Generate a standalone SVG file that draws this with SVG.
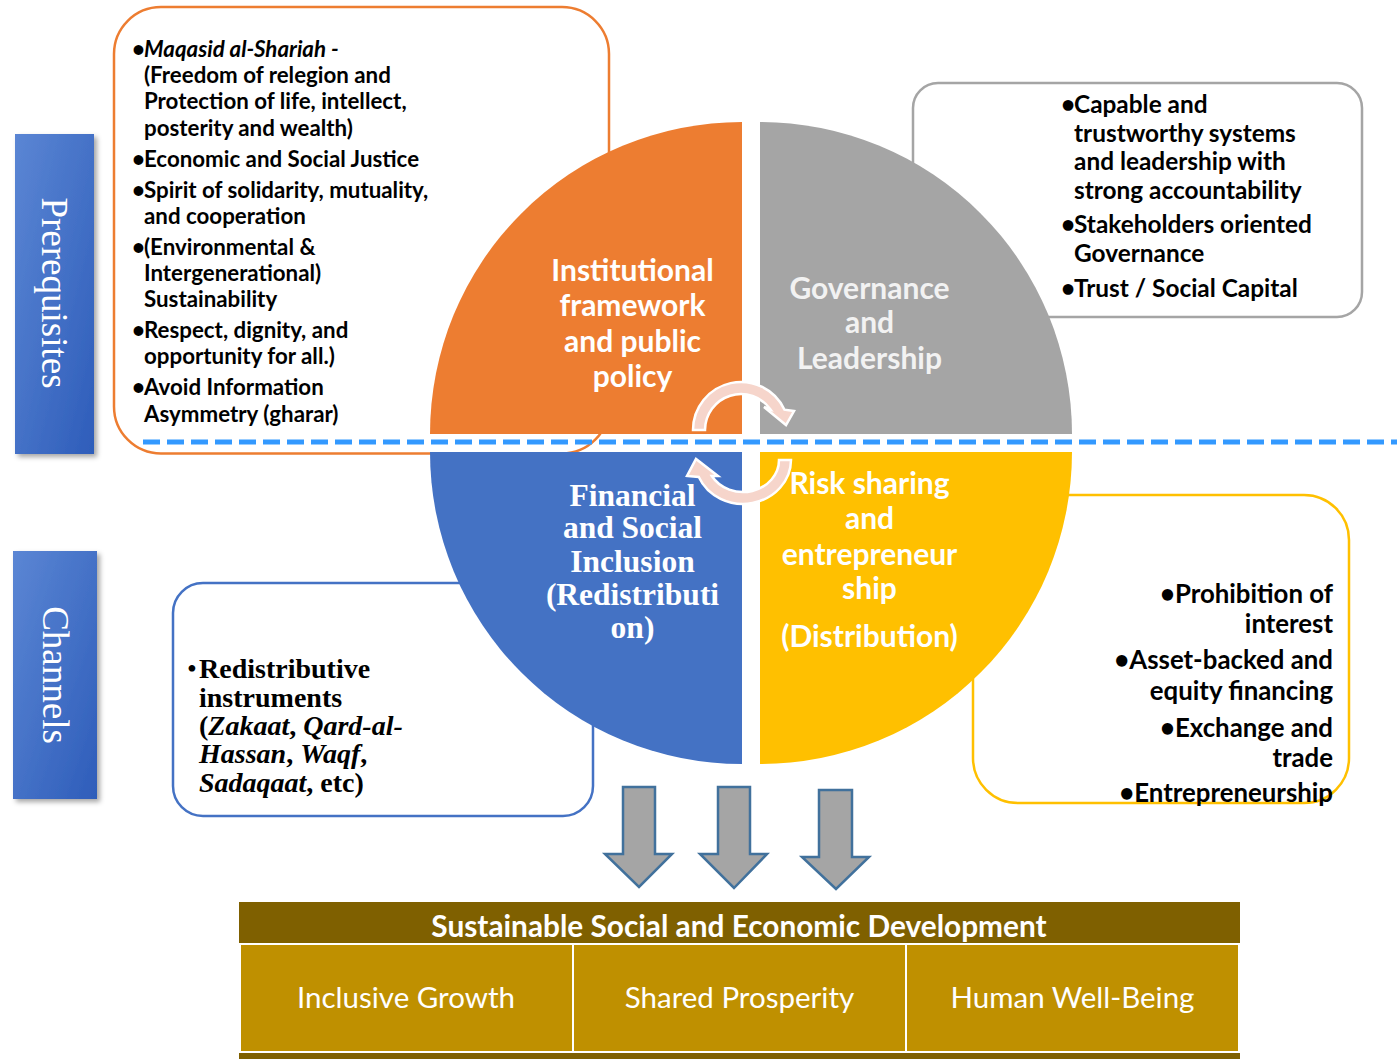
<svg xmlns="http://www.w3.org/2000/svg" width="1397" height="1059" viewBox="0 0 1397 1059">
  <defs>
    <style>
      .cal { font-family: Lato, "Open Sans", "DejaVu Sans", sans-serif; font-weight: 700; }
      .calr { font-family: Lato, "Open Sans", "DejaVu Sans", sans-serif; font-weight: 400; }
      .tnr { font-family: "Liberation Serif", "Times New Roman", serif; }
      .box { fill: #FFFFFF; stroke-width: 2.5; }
      .blk { fill: #000000; }
      .wht { fill: #FFFFFF; }
      .cyc { fill: #F6D5CB; stroke: #FFFFFF; stroke-width: 2.5; stroke-linejoin: miter; }
      .down { fill: #A5A5A5; stroke: #41719C; stroke-width: 2.5; stroke-linejoin: miter; }
      .tl { font-size: 22.3px; }
      .tr { font-size: 24.4px; }
      .br { font-size: 25.8px; }
      .quad { font-size: 30px; text-anchor: middle; }
      .cell { font-size: 29.5px; text-anchor: middle; }
    </style>
    <linearGradient id="sideFill" x1="0" y1="0" x2="1" y2="1">
      <stop offset="0" stop-color="#5B86D4"/>
      <stop offset="1" stop-color="#2E5DBA"/>
    </linearGradient>
    <filter id="shadow" x="-20%" y="-10%" width="150%" height="130%">
      <feDropShadow dx="3" dy="3" stdDeviation="2.5" flood-color="#000000" flood-opacity="0.35"/>
    </filter>
  </defs>

  <rect x="0" y="0" width="1397" height="1059" fill="#FFFFFF"/>

  <!-- Prerequisite values -->
  <g id="prerequisites-box">
    <rect class="box" x="114" y="7" width="495" height="446.5" rx="47" stroke="#ED7D31"/>
    <g class="cal tl blk">
      <text x="132" y="56.7">•</text>
      <text x="144" y="56.7" font-style="italic">Maqasid al-Shariah -</text>
      <text x="144" y="82.7">(Freedom of relegion and</text>
      <text x="144" y="109.3">Protection of life, intellect,</text>
      <text x="144" y="135.7">posterity and wealth)</text>
      <text x="132" y="166.7">•</text>
      <text x="144" y="166.7">Economic and Social Justice</text>
      <text x="132" y="198.3">•</text>
      <text x="144" y="198.3">Spirit of solidarity, mutuality,</text>
      <text x="144" y="224.3">and cooperation</text>
      <text x="132" y="255.3">•</text>
      <text x="144" y="255.3">(Environmental &amp;</text>
      <text x="144" y="281.3">Intergenerational)</text>
      <text x="144" y="307.3">Sustainability</text>
      <text x="132" y="338.3">•</text>
      <text x="144" y="338.3">Respect, dignity, and</text>
      <text x="144" y="364.3">opportunity for all.)</text>
      <text x="132" y="395.3">•</text>
      <text x="144" y="395.3">Avoid Information</text>
      <text x="144" y="421.7">Asymmetry (gharar)</text>
    </g>
  </g>

  <!-- Governance values -->
  <g id="governance-box">
    <rect class="box" x="913" y="83" width="449" height="234" rx="25" stroke="#A5A5A5"/>
    <g class="cal tr blk">
      <text x="1061" y="113.3">•</text>
      <text x="1074" y="113.3">Capable and</text>
      <text x="1074" y="141.8">trustworthy systems</text>
      <text x="1074" y="170.3">and leadership with</text>
      <text x="1074" y="198.8">strong accountability</text>
      <text x="1061" y="233.3">•</text>
      <text x="1074" y="233.3">Stakeholders oriented</text>
      <text x="1074" y="261.8">Governance</text>
      <text x="1061" y="296.7">•</text>
      <text x="1074" y="296.7">Trust / Social Capital</text>
    </g>
  </g>

  <!-- Redistribution channel -->
  <g id="redistribution-box">
    <rect class="box" x="173" y="583" width="420" height="233" rx="30" stroke="#4472C4"/>
    <g class="tnr blk" font-size="28" font-weight="700">
      <text x="187" y="678.3" font-weight="400">•</text>
      <text x="199" y="678.3">Redistributive</text>
      <text x="199" y="706.7">instruments</text>
      <text x="199" y="735">(<tspan font-style="italic">Zakaat</tspan>, <tspan font-style="italic">Qard-al-</tspan></text>
      <text x="199" y="763.3"><tspan font-style="italic">Hassan</tspan>, <tspan font-style="italic">Waqf</tspan>,</text>
      <text x="199" y="791.7"><tspan font-style="italic">Sadaqaat</tspan>, etc)</text>
    </g>
  </g>

  <!-- Distribution channel -->
  <g id="distribution-box">
    <rect class="box" x="973" y="495" width="376" height="308" rx="45" stroke="#FFC000"/>
    <g class="cal br blk" text-anchor="end">
      <text x="1333" y="603.3">•Prohibition of</text>
      <text x="1333" y="633.3">interest</text>
      <text x="1333" y="669.3">•Asset-backed and</text>
      <text x="1333" y="700">equity financing</text>
      <text x="1333" y="736.7">•Exchange and</text>
      <text x="1333" y="766.7">trade</text>
      <text x="1333" y="801.7">•Entrepreneurship</text>
    </g>
  </g>

  <!-- Four pillars: quarter discs around the centre -->
  <g id="pillar-institutional">
    <path d="M742 434 H430 A312 312 0 0 1 742 122 Z" fill="#ED7D31"/>
    <g class="cal quad wht">
      <text x="632.5" y="280.5">Institutional</text>
      <text x="632.5" y="316">framework</text>
      <text x="632.5" y="351.5">and public</text>
      <text x="632.5" y="387">policy</text>
    </g>
  </g>
  <g id="pillar-governance">
    <path d="M760 434 V122 A312 312 0 0 1 1072 434 Z" fill="#A5A5A5"/>
    <g class="cal quad" fill="#F2F2F2">
      <text x="869.5" y="299.4">Governance</text>
      <text x="869.5" y="333">and</text>
      <text x="869.5" y="368.8">Leadership</text>
    </g>
  </g>
  <g id="pillar-inclusion">
    <path d="M742 452 V764 A312 312 0 0 1 430 452 Z" fill="#4472C4"/>
    <g class="tnr wht" font-size="31.5" font-weight="700" text-anchor="middle">
      <text x="632.5" y="505.6">Financial</text>
      <text x="632.5" y="538.4">and Social</text>
      <text x="632.5" y="571.7">Inclusion</text>
      <text x="632.5" y="604.5">(Redistributi</text>
      <text x="632.5" y="638">on)</text>
    </g>
  </g>
  <g id="pillar-risk-sharing">
    <path d="M760 452 H1072 A312 312 0 0 1 760 764 Z" fill="#FFC000"/>
    <g class="cal quad wht">
      <text x="869.5" y="493.8">Risk sharing</text>
      <text x="869.5" y="528.8">and</text>
      <text x="869.5" y="564.5">entrepreneur</text>
      <text x="869.5" y="599">ship</text>
      <text x="869.5" y="646.6">(Distribution)</text>
    </g>
  </g>

  <!-- Divider between prerequisites and channels -->
  <g id="divider">
    <line x1="143" y1="442" x2="1397" y2="442" stroke="#3399FF" stroke-width="5" stroke-dasharray="17 7"/>
  </g>

  <!-- Connectors: cycle arrows and downward flow arrows -->
  <g id="connectors">
    <path class="cyc" d="M693 430 A48 48 0 0 1 784.5 409.7 L794 411 L786 425 L764 407 L770.5 409.4 A36 36 0 0 0 705 430 Z"/>
    <path class="cyc" d="M791 460 A48 44 0 0 1 698.8 477 L687 476 L696 459 L718 476 L711.8 476 A36 32 0 0 0 779 460 Z"/>
    <path class="down" d="M623 787 H655 V854 H672 L639 887 L605 854 H623 Z"/>
    <path class="down" d="M718 787 H750 V854 H767 L734 888 L700 854 H718 Z"/>
    <path class="down" d="M819 790 H852 V857 H869 L836 889 L802 857 H819 Z"/>
  </g>

  <!-- Outcome panel -->
  <g id="outcome-header">
    <rect x="239" y="902" width="1001" height="41" fill="#7F6000"/>
    <text class="cal wht" x="739" y="937" font-size="29.8" text-anchor="middle">Sustainable Social and Economic Development</text>
  </g>
  <g id="outcome-inclusive-growth">
    <rect x="240" y="944" width="333" height="108" fill="#BF9000" stroke="#FFFFFF" stroke-width="2"/>
    <text class="calr wht cell" x="406" y="1008">Inclusive Growth</text>
  </g>
  <g id="outcome-shared-prosperity">
    <rect x="573" y="944" width="333" height="108" fill="#BF9000" stroke="#FFFFFF" stroke-width="2"/>
    <text class="calr wht cell" x="739.5" y="1008">Shared Prosperity</text>
  </g>
  <g id="outcome-well-being">
    <rect x="906" y="944" width="333" height="108" fill="#BF9000" stroke="#FFFFFF" stroke-width="2"/>
    <text class="calr wht cell" x="1072.5" y="1008">Human Well-Being</text>
  </g>
  <rect x="239" y="1053" width="1001" height="6" fill="#7F6000"/>

  <!-- Side labels -->
  <g id="label-prerequisites">
    <rect x="15" y="134" width="79" height="320" fill="url(#sideFill)" filter="url(#shadow)"/>
    <text class="tnr wht" transform="translate(54.5 293) rotate(90)" font-size="37" text-anchor="middle" dominant-baseline="central">Prerequisites</text>
  </g>
  <g id="label-channels">
    <rect x="13" y="551" width="84" height="248" fill="url(#sideFill)" filter="url(#shadow)"/>
    <text class="tnr wht" transform="translate(55 675) rotate(90)" font-size="37" text-anchor="middle" dominant-baseline="central">Channels</text>
  </g>
</svg>
